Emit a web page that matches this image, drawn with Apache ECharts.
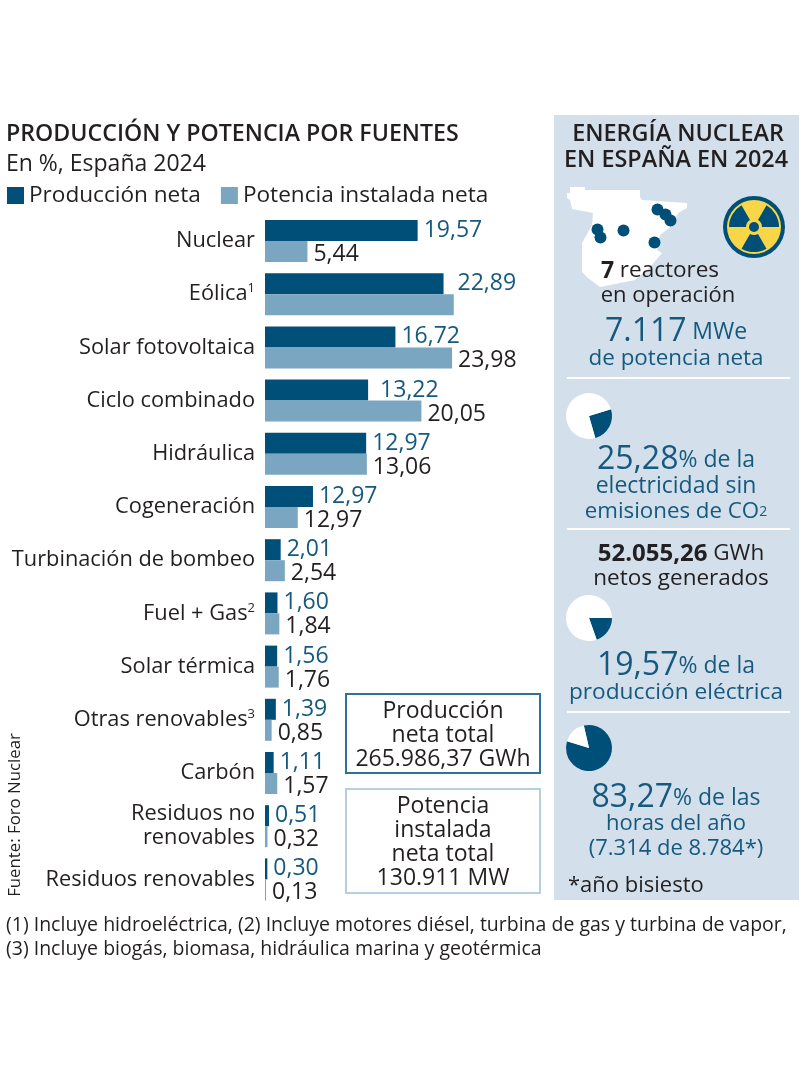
<!DOCTYPE html>
<html>
<head>
<meta charset="utf-8">
<title>Producción y potencia por fuentes</title>
<script src="https://cdn.jsdelivr.net/npm/echarts@6/dist/echarts.min.js"></script>
<style>
  html, body { margin: 0; padding: 0; background: #fff; }
  #main { width: 800px; height: 1080px; }
</style>
</head>
<body>
<div id="main"></div>
<script>
var categories = ['Nuclear', 'Eólica', 'Solar fotovoltaica', 'Ciclo combinado', 'Hidráulica', 'Cogeneración',
  'Turbinación de bombeo', 'Fuel + Gas', 'Solar térmica', 'Otras renovables', 'Carbón', 'Residuos no\nrenovables', 'Residuos renovables'];
var footnotes = ['', '1', '', '', '', '', '', '2', '', '3', '', '', ''];
// bar lengths as drawn (cogeneración is drawn shorter than its printed label)
var produccion = [19.57, 22.89, 16.72, 13.22, 12.97, 6.15, 2.01, 1.60, 1.56, 1.39, 1.11, 0.51, 0.30];
var potencia = [5.44, 24.2, 23.98, 20.05, 13.06, 4.2, 2.54, 1.84, 1.76, 0.85, 1.57, 0.32, 0.13];
var produccionLabels = ['19,57', '22,89', '16,72', '13,22', '12,97', '12,97', '2,01', '1,60', '1,56', '1,39', '1,11', '0,51', '0,30'];
var potenciaLabels = ['5,44', '', '23,98', '20,05', '13,06', '12,97', '2,54', '1,84', '1,76', '0,85', '1,57', '0,32', '0,13'];
var pieSinCo2 = [25.28, 74.72];
var pieProduccion = [19.57, 80.43];
var pieHoras = [83.27, 16.73];
var reactorX = [57.5, 65.5, 70.5, -2.5, 0.5, 23.5, 54.5];
var reactorY = [22.5, 27.5, 33.5, 42.5, 50.5, 43.5, 55.5];

var FONT = '"Open Sans", sans-serif';
var DARK = '#004f78', LIGHT = '#7ba6c1', BLUE = '#15597f', INK = '#231f20', PANEL = '#d3e0eb';

function txt(x, y, text, size, color, align, rich, weight) {
  var style = { x: x, y: y + 2, text: text, fill: color || INK, font: (weight || 400) + ' ' + size + 'px ' + FONT,
    align: align || 'center', verticalAlign: 'middle' };
  if (rich) style.rich = rich;
  return { type: 'text', z: 5, silent: true, style: style };
}
function rs(size, color, weight) {
  return { fontFamily: FONT, fontSize: size, fill: color, color: color, fontWeight: weight || 400 };
}
function hline(y) {
  return { type: 'line', z: 2, silent: true, shape: { x1: 567, y1: y, x2: 790, y2: y }, style: { stroke: '#fff', lineWidth: 2 } };
}
function box(y, h, color) {
  return { type: 'rect', z: 2, silent: true, shape: { x: 346, y: y, width: 194, height: h }, style: { fill: '#fff', stroke: color, lineWidth: 2 } };
}
function blade(a) {
  return { type: 'sector', z: 3, silent: true, shape: { cx: 754, cy: 227, r: 25, r0: 8, startAngle: (a - 30) * Math.PI / 180, endAngle: (a + 30) * Math.PI / 180 }, style: { fill: DARK } };
}
function pie(cy, data, start) {
  return { type: 'pie', center: [589, cy], radius: [0, 23], startAngle: start, clockwise: true, silent: true,
    label: { show: false }, labelLine: { show: false }, animation: false,
    data: [{ value: data[0], itemStyle: { color: DARK } }, { value: data[1], itemStyle: { color: '#fff' } }] };
}

var big = { a: rs(32, BLUE), b: rs(23, BLUE) };
var graphics = [
  { type: 'rect', z: 0, silent: true, shape: { x: 554, y: 115, width: 245, height: 785 }, style: { fill: PANEL } },
  { type: 'polygon', z: 1, silent: true, style: { fill: '#fff' }, shape: { points: [
    [567, 193], [570, 193], [570, 187], [585, 187], [585, 190], [640, 190], [640, 197], [642, 200], [687, 203], [687, 208], [678, 213], [673, 225],
    [660, 235], [657, 250], [662, 253], [650, 267], [635, 280], [600, 287], [588, 278], [582, 272], [582, 243], [592, 225],
    [593, 213], [572, 209], [570, 200], [567, 198]] } },
  box(694, 79, '#2f7299'),
  box(789, 104, '#b5cfe0'),
  hline(378), hline(529), hline(712),
  { type: 'circle', z: 2, silent: true, shape: { cx: 754, cy: 227, r: 31 }, style: { fill: DARK } },
  { type: 'circle', z: 2, silent: true, shape: { cx: 754, cy: 227, r: 27 }, style: { fill: '#f9d648' } },
  blade(90), blade(210), blade(330),
  { type: 'circle', z: 3, silent: true, shape: { cx: 754, cy: 227, r: 5 }, style: { fill: DARK } },

  txt(6, 132, 'PRODUCCIÓN Y POTENCIA POR FUENTES', 23.2, INK, 'left', null, 600),
  txt(6, 162, 'En %, España 2024', 23, INK, 'left'),

  txt(443, 709, 'Producción', 23), txt(443, 733, 'neta total', 23), txt(443, 757, '265.986,37 GWh', 23),
  txt(443, 804, 'Potencia', 23), txt(443, 828, 'instalada', 23), txt(443, 852, 'neta total', 23), txt(443, 876, '130.911 MW', 23),

  { type: 'text', z: 5, silent: true, x: 15, y: 815, rotation: Math.PI / 2,
    style: { text: 'Fuente: Foro Nuclear', fill: INK, font: '400 16.8px ' + FONT, align: 'center', verticalAlign: 'middle' } },
  txt(6, 923, '(1) Incluye hidroeléctrica, (2) Incluye motores diésel, turbina de gas y turbina de vapor,', 19.5, INK, 'left'),
  txt(6, 947, '(3) Incluye biogás, biomasa, hidráulica marina y geotérmica', 19.5, INK, 'left'),

  txt(678, 132, 'ENERGÍA NUCLEAR', 23.4, INK, 'center', null, 600),
  txt(676, 158, 'EN ESPAÑA EN 2024', 23.4, INK, 'center', null, 600),
  txt(660, 269, '{a|7} {b|reactores}', 22, INK, 'center', { a: rs(23, INK, 700), b: rs(22.5, INK) }),
  txt(668, 294, 'en operación', 22),
  txt(676, 330, '{a|7.117} {b|MWe}', 22, BLUE, 'center', big),
  txt(676, 357, 'de potencia neta', 22.4, BLUE),
  txt(676, 458, '{a|25,28}{b|% de la}', 22, BLUE, 'center', big),
  txt(676, 484, 'electricidad sin', 23, BLUE),
  txt(676, 510, '{b|emisiones de CO}{s|2}', 22, BLUE, 'center', { b: rs(22.3, BLUE), s: rs(14, BLUE) }),
  txt(681, 552, '{a|52.055,26} {b|GWh}', 22, INK, 'center', { a: rs(24, INK, 700), b: rs(22.5, INK) }),
  txt(681, 577, 'netos generados', 22.5),
  txt(676, 664, '{a|19,57}{b|% de la}', 22, BLUE, 'center', big),
  txt(676, 691, 'producción eléctrica', 22.7, BLUE),
  txt(676, 796, '{a|83,27}{b|% de las}', 22, BLUE, 'center', big),
  txt(676, 822, 'horas del año', 22, BLUE),
  txt(676, 847, '(7.314 de 8.784*)', 22, BLUE),
  txt(568, 884, '*año bisiesto', 22, INK, 'left')
];

// these two labels stand further from their bars
var labelGaps = { '22,89': 14, '13,22': 12 };

function barSeries(name, values, labels, color, labelColor, labelDy) {
  return {
    name: name, type: 'bar', xAxisIndex: 0, yAxisIndex: 0, barWidth: 21, barGap: 0, silent: true,
    data: values.map(function (v, i) { return labelGaps[labels[i]] ? { value: v, label: { distance: labelGaps[labels[i]] } } : v; }),
    itemStyle: { color: color },
    label: { show: true, position: 'right', distance: 6, offset: [0, labelDy], color: labelColor, fontFamily: FONT, fontSize: 23,
      formatter: function (p) { return labels[p.dataIndex]; } }
  };
}

var chart = echarts.init(document.getElementById('main'), null, { renderer: 'canvas' });
chart.setOption({
  animation: false,
  backgroundColor: '#fff',
  legend: {
    left: 7, top: 184, padding: 0, icon: 'rect', itemWidth: 17, itemHeight: 17, itemGap: 20, selectedMode: false,
    data: ['Producción neta', 'Potencia instalada neta'],
    textStyle: { fontFamily: FONT, fontSize: 22.6, color: INK }
  },
  grid: [
    { left: 265, top: 214.4, width: 234, height: 691.6 },
    { left: 580, top: 187, width: 100, height: 100 }
  ],
  xAxis: [
    { type: 'value', gridIndex: 0, min: 0, max: 30, show: false },
    { type: 'value', gridIndex: 1, min: -20, max: 80, show: false }
  ],
  yAxis: [
    {
      type: 'category', gridIndex: 0, inverse: true, data: categories,
      axisLine: { show: false }, axisTick: { show: false },
      axisLabel: {
        margin: 10, interval: 0, align: 'right',
        formatter: function (v, i) {
          var out = v.split('\n').map(function (l) { return '{n|' + l + '}'; }).join('\n');
          return footnotes[i] ? out + '{s|' + footnotes[i] + '}' : out;
        },
        rich: {
          n: { fontFamily: FONT, fontSize: 21.8, color: INK, lineHeight: 24 },
          s: { fontFamily: FONT, fontSize: 13, color: INK, verticalAlign: 'top', padding: [0, 0, 8, 0] }
        }
      }
    },
    { type: 'value', gridIndex: 1, min: 0, max: 100, inverse: true, show: false }
  ],
  series: [
    barSeries('Producción neta', produccion, produccionLabels, DARK, BLUE, 0),
    barSeries('Potencia instalada neta', potencia, potenciaLabels, LIGHT, INK, 3),
    pie(416, pieSinCo2, 17),
    pie(618, pieProduccion, 0),
    pie(748, pieHoras, 103),
    {
      type: 'scatter', xAxisIndex: 1, yAxisIndex: 1, symbolSize: 12, silent: true, z: 4,
      itemStyle: { color: DARK, opacity: 1 },
      data: reactorX.map(function (x, i) { return [x, reactorY[i]]; })
    }
  ],
  graphic: graphics
});
</script>
</body>
</html>
